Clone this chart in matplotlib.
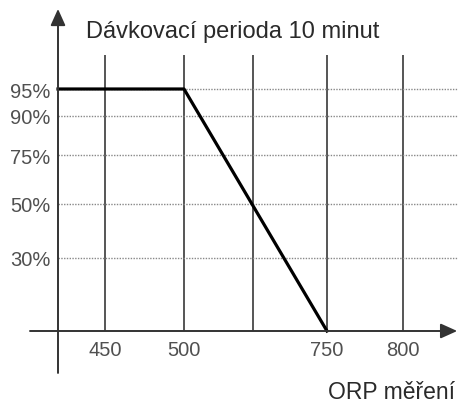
import numpy as np
import matplotlib
matplotlib.use("Agg")
import matplotlib.pyplot as plt

plt.rcParams['font.family'] = ['Liberation Sans', 'DejaVu Sans']

# dosing curve
orp = [420, 500, 750]
dose = [95, 95, 0]

x_ticks = [450, 500, 625, 750, 800]
x_labels = ["450", "500", "", "750", "800"]
y_ticks = [30, 50, 75, 90, 95]
y_labels = ["30%", "50%", "75%", "90%", "95%"]

# the drawing is not to scale, so map values through piecewise scales
x_knots = [420, 450, 500, 625, 750, 800, 850]
x_pos = [58, 105, 184, 253, 327, 403, 458]
y_knots = [0, 30, 50, 75, 90, 95, 110]
y_pos = [0, 73, 127, 176, 215, 242, 276]

fig = plt.figure(figsize=(4.6, 4.06), dpi=100)
ax = fig.add_axes([58 / 460, 74 / 406, 400 / 460, 276 / 406])

ax.set_xscale("function", functions=(lambda v: np.interp(v, x_knots, x_pos),
                                     lambda v: np.interp(v, x_pos, x_knots)))
ax.set_yscale("function", functions=(lambda v: np.interp(v, y_knots, y_pos),
                                     lambda v: np.interp(v, y_pos, y_knots)))
ax.set_xlim(420, 850)
ax.set_ylim(0, 110)

for s in ax.spines.values():
    s.set_visible(False)

for x in x_ticks:
    ax.axvline(x, color="#555555", lw=1.4, zorder=1)
for y in y_ticks:
    ax.axhline(y, color="#888888", lw=1.0, ls=(0, (1, 1)), zorder=1)

ax.plot(orp, dose, color="black", lw=2.3, clip_on=False, zorder=3)

ax.set_xticks(x_ticks)
ax.set_xticklabels(x_labels)
ax.set_yticks(y_ticks)
ax.set_yticklabels(y_labels)
ax.tick_params(length=0, labelsize=14.5, colors="#505050")
ax.tick_params(axis="x", pad=6.5)
ax.tick_params(axis="y", pad=5.5)

arrow = dict(arrowstyle="-|>,head_length=1.0,head_width=0.45", mutation_scale=10,
             color="#333333", lw=1.4, shrinkA=0, shrinkB=0)
ax.annotate("", xy=(0, 1.167), xytext=(0, -0.152), xycoords="axes fraction",
            arrowprops=arrow, annotation_clip=False)
ax.annotate("", xy=(0.998, 0), xytext=(-0.07, 0), xycoords="axes fraction",
            arrowprops=arrow, annotation_clip=False)

fig.text(86 / 460, 1 - 38 / 406, "Dávkovací perioda 10 minut", fontsize=17,
         color="#2a2a2a", va="baseline", ha="left")
fig.text(455 / 460, 1 - 399 / 406, "ORP měření", fontsize=16.5,
         color="#2a2a2a", va="baseline", ha="right")

fig.savefig("out.png", dpi=100)
